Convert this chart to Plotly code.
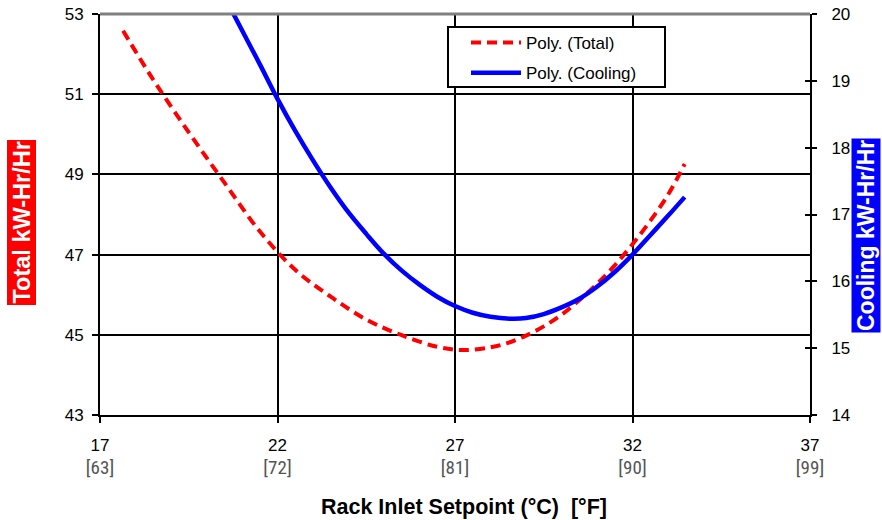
import plotly.graph_objects as go

# Data
total_x = [17.65, 18.5, 19.5, 20.5, 21.5, 22.5, 23.5, 24.5, 25.5, 26.5, 27.25, 28.0, 28.5, 29.0, 29.5, 30.0, 30.5, 31.0, 31.5, 32.0, 32.5, 33.0, 33.47]
total_y = [52.58, 51.36, 50.05, 48.80, 47.58, 46.62, 45.95, 45.38, 44.99, 44.70, 44.62, 44.69, 44.80, 44.98, 45.21, 45.50, 45.86, 46.27, 46.73, 47.26, 47.84, 48.49, 49.26]

cool_x = [20.76, 21.5, 22.0, 22.5, 23.0, 23.5, 24.0, 24.5, 25.0, 25.5, 26.0, 26.5, 27.0, 27.5, 28.0, 28.58, 29.0, 29.5, 30.0, 30.5, 31.0, 31.5, 32.0, 32.5, 33.0, 33.47]
cool_y = [20.0, 19.25, 18.73, 18.25, 17.81, 17.40, 17.03, 16.71, 16.41, 16.16, 15.95, 15.77, 15.63, 15.53, 15.47, 15.44, 15.45, 15.51, 15.61, 15.74, 15.92, 16.14, 16.40, 16.69, 16.98, 17.26]

x_ticks = [17, 22, 27, 32, 37]
x_ticks_f = ["63", "72", "81", "90", "99"]
left_ticks = [43, 45, 47, 49, 51, 53]
right_ticks = [14, 15, 16, 17, 18, 19, 20]

FONT = "Arial, Liberation Sans, sans-serif"
NARROW = "Liberation Sans Narrow, Arial Narrow, Roboto Condensed, Arial, sans-serif"

L, R, T, B = 100, 72, 14, 105
W, H = 882, 520
PW, PH = W - L - R, H - T - B


def px_x(p):
    return (p - L) / PW


def px_y(p):
    return 1 - (p - T) / PH


fig = go.Figure()
fig.add_trace(go.Scatter(x=total_x, y=total_y, mode="lines", name="Poly. (Total)",
                         line=dict(color="#ff0000", width=4, dash="10px,6px", shape="spline"),
                         yaxis="y", legendgroup="a"))
fig.add_trace(go.Scatter(x=cool_x, y=cool_y, mode="lines", name="Poly. (Cooling)",
                         line=dict(color="#0000ff", width=4.5, shape="spline"),
                         yaxis="y2", legendgroup="b"))
fig.add_trace(go.Scatter(x=[None], y=[None], yaxis="y3", showlegend=False, hoverinfo="skip"))

xt = [f"{c}<br><span style='color:#555555;font-family:{NARROW};font-size:19px'>[{f}]</span>"
      for c, f in zip(x_ticks, x_ticks_f)]

fig.update_layout(
    width=W, height=H,
    margin=dict(l=L, r=R, t=T, b=B, autoexpand=False),
    paper_bgcolor="white", plot_bgcolor="white",
    font=dict(family=FONT, size=15, color="black"),
    showlegend=True,
    legend=dict(x=px_x(466), y=px_y(25), xanchor="left", yanchor="top",
                bgcolor="rgba(0,0,0,0)", borderwidth=0,
                font=dict(size=17, family=FONT), tracegroupgap=5,
                itemwidth=50),
    xaxis=dict(range=[17, 37], tickmode="array", tickvals=x_ticks, ticktext=xt,
               showgrid=True, gridcolor="black", gridwidth=1.6,
               showline=True, linecolor="black", linewidth=2,
               ticks="outside", ticklen=6, tickwidth=2, tickcolor="black",
               tickfont=dict(size=17, family=FONT), zeroline=False, automargin=False,
               ticklabelstandoff=8),
    yaxis=dict(range=[43, 53], tickmode="array", tickvals=left_ticks,
               showgrid=True, gridcolor="black", gridwidth=1.6,
               showline=True, linecolor="black", linewidth=2,
               ticks="outside", ticklen=6, tickwidth=2, tickcolor="black",
               tickfont=dict(size=17, family=FONT), zeroline=False, automargin=False,
               ticklabelstandoff=5),
    yaxis2=dict(range=[14, 20], tickmode="array", tickvals=right_ticks,
                overlaying="y", side="right", showgrid=False,
                showline=True, linecolor="black", linewidth=2,
                ticks="outside", ticklen=5, tickwidth=2, tickcolor="black",
                tickfont=dict(size=17, family=FONT), zeroline=False, automargin=False,
                ticklabelstandoff=11),
    yaxis3=dict(range=[14, 20], tickmode="array", tickvals=right_ticks,
                overlaying="y", side="right", showgrid=False, showline=False,
                ticks="inside", ticklen=5, tickwidth=2, tickcolor="black",
                showticklabels=False, zeroline=False, automargin=False),
)

# gray top border
fig.add_shape(type="line", xref="paper", yref="paper", x0=0, x1=1, y0=1, y1=1,
              line=dict(color="#808080", width=3))
# legend box
fig.add_shape(type="rect", xref="paper", yref="paper", layer="above",
              x0=px_x(448), x1=px_x(665), y0=px_y(87), y1=px_y(27),
              line=dict(color="black", width=2), fillcolor="white")

# axis titles
fig.add_annotation(text="<b>Total kW-Hr/Hr</b>", xref="paper", yref="paper",
                   x=px_x(21.5), y=px_y(223), xanchor="center", yanchor="middle", textangle=-90,
                   showarrow=False, bgcolor="#ff0000", font=dict(color="white", size=23.5, family=FONT),
                   borderpad=1)
fig.add_annotation(text="<b>Cooling kW-Hr/Hr</b>", xref="paper", yref="paper",
                   x=px_x(866), y=px_y(235), xanchor="center", yanchor="middle", textangle=-90,
                   showarrow=False, bgcolor="#0000ff", font=dict(color="white", size=23, family=FONT),
                   borderpad=1)
fig.add_annotation(text="<b>Rack Inlet Setpoint (°C)  [°F]</b>", xref="paper", yref="paper",
                   x=px_x(463.5), y=px_y(507.5), xanchor="center", yanchor="middle", showarrow=False,
                   font=dict(size=21.5, family=FONT, color="black"))

fig.write_html("out.html", config={"displayModeBar": False},
               post_script="document.body.style.margin='0';document.body.style.padding='0';")
